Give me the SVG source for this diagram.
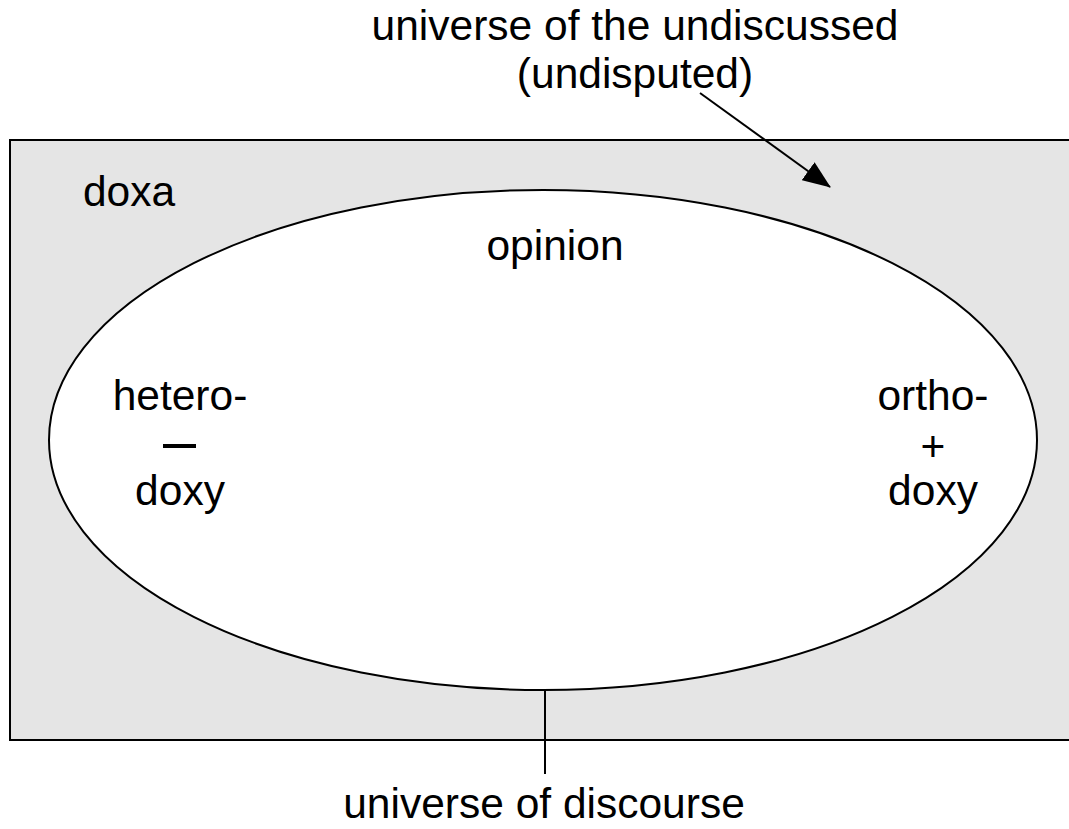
<svg xmlns="http://www.w3.org/2000/svg" width="1069" height="829" viewBox="0 0 1069 829">
  <style>
    text { font-family: "Liberation Sans", Arial, sans-serif; font-size: 42.5px; fill: #000; text-anchor: middle; }
    .line { stroke: #000; stroke-width: 2; fill: none; }
  </style>
  <defs>
    <marker id="arrowhead" markerWidth="28" markerHeight="22" refX="27" refY="11" orient="auto" markerUnits="userSpaceOnUse" viewBox="0 0 28 22">
      <path d="M0,0 L28,11 L0,22 Z" fill="#000"/>
    </marker>
  </defs>
  <rect width="1069" height="829" fill="#fff"/>

  <!-- doxa: the field of the undiscussed -->
  <g id="doxa">
    <rect x="10" y="140" width="1070" height="600" fill="#e5e5e5" stroke="#000" stroke-width="2"/>
    <text x="129" y="206">doxa</text>
  </g>

  <!-- opinion: the universe of discourse -->
  <g id="opinion">
    <ellipse cx="543" cy="440" rx="494" ry="250" fill="#fff" stroke="#000" stroke-width="2"/>
    <text x="555" y="260">opinion</text>
  </g>

  <g id="heterodoxy">
    <text x="180" y="410">hetero-</text>
    <rect x="163" y="444" width="33" height="4" fill="#000"/>
    <text x="180" y="505">doxy</text>
  </g>

  <g id="orthodoxy">
    <text x="933" y="410">ortho-</text>
    <text x="933" y="461">+</text>
    <text x="933" y="505">doxy</text>
  </g>

  <g id="label-undiscussed">
    <text x="635" y="40">universe of the undiscussed</text>
    <text x="635" y="88">(undisputed)</text>
  </g>

  <g id="label-discourse">
    <text x="544" y="818">universe of discourse</text>
  </g>

  <g id="connectors">
    <line class="line" x1="700" y1="93" x2="830" y2="187" marker-end="url(#arrowhead)"/>
    <line class="line" x1="545" y1="690" x2="545" y2="774"/>
  </g>
</svg>
